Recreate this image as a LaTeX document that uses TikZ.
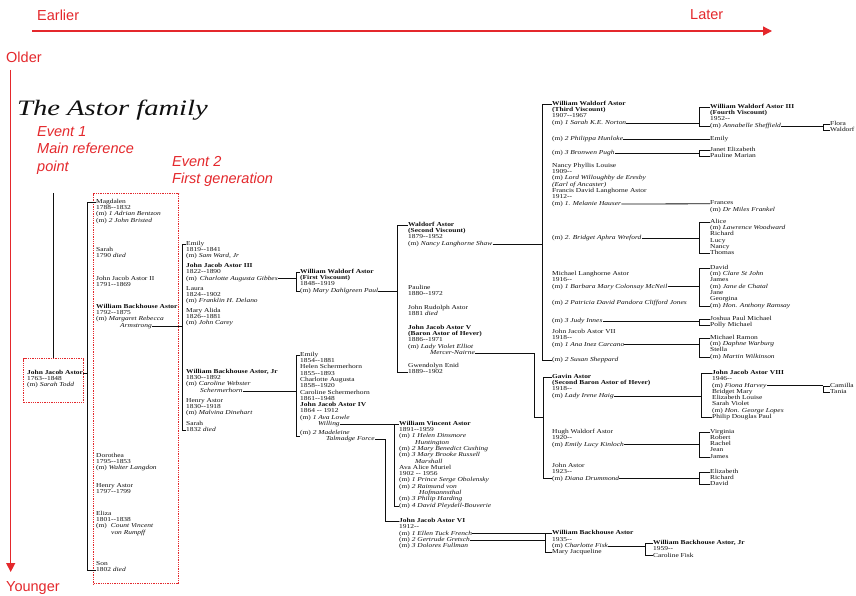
\documentclass[tikz,border=0pt]{standalone}
\usepackage{fontspec}
\setmainfont{Liberation Serif}
\newfontfamily\treefont{Liberation Serif}[FakeStretch=1.22]
\newfontfamily\titlefont{Liberation Serif}[FakeStretch=1.3]
\newfontfamily\notefont{Liberation Sans}
\usetikzlibrary{arrows.meta}
\definecolor{evred}{RGB}{228, 40, 44}
\definecolor{ink}{RGB}{15, 15, 15}
\tikzset{
    person/.style={anchor=north west, yshift=3.15pt, inner sep=0pt, align=left, text=ink,
        font=\treefont\fontsize{6.1}{6.3}\selectfont, execute at begin node=\strut, execute at end node=\strut},
    link/.style={draw=ink, line width=0.8pt},
    note/.style={anchor=west, inner sep=0pt, align=left, text=evred, font=\notefont\fontsize{14.5}{17.5}\selectfont},
    evbox/.style={draw=evred, densely dotted, line width=1.3pt, anchor=north west, inner sep=0pt},
    axis/.style={draw=evred, line width=1.3pt, -{Triangle[length=9pt, width=9pt]}}
}

\begin{document}
\begin{tikzpicture}[x=1pt, y=-1pt]
    \fill[white] (0,0) rectangle (856,596);
    \useasboundingbox (0,0) rectangle (856,596);

    % time axes
    \coordinate (axStart) at (32,31);
    \coordinate (axEnd) at (772,31);
    \coordinate (ayStart) at (10.7,70);
    \coordinate (ayEnd) at (10.7,572);
    \draw[axis] (axStart) -- (axEnd);
    \draw[axis] (ayStart) -- (ayEnd);
    \node[note] (earlier) at (37,15) {Earlier};
    \node[note] (later) at (690,15) {Later};
    \node[note] (older) at (6,57) {Older};
    \node[note] (younger) at (6,588) {Younger};

    \node[anchor=west, inner sep=0pt, text=ink, font=\titlefont\itshape\fontsize{22}{24}\selectfont] (title) at (17,110) {The Astor family};
    \node[note, font=\notefont\itshape\fontsize{14.5}{17.5}\selectfont, anchor=north west] (ev1) at (37,126) {Event 1\\Main reference\\point};
    \node[note, font=\notefont\itshape\fontsize{14.5}{17.5}\selectfont, anchor=north west] (ev2) at (172,156) {Event 2\\First generation};

    % event boxes
    \node[evbox, minimum width=60pt, minimum height=44pt] (ev1box) at (23,358) {};
    \node[evbox, minimum width=85pt, minimum height=390pt] (ev2box) at (93,193) {};

    % generation 0
    \node[person] (jja) at (27,373) {\textbf{John Jacob Astor}};
    \node[person] (jjaD) at (27,379.3) {1763--1848\\(m) \textit{Sarah Todd}};
    \coordinate (jjaUp) at (53,193);
    \draw[link] (jjaUp) -- (jjaUp |- ev1box.north);

    % generation 1
    \node[person] (magd) at (96,202) {Magdalen\\1788--1832\\(m) \textit{1 Adrian Bentzon}\\(m) \textit{2 John Bristed}};
    \node[person] (sarah) at (96,250) {Sarah\\1790 \textit{died}};
    \node[person] (jja2) at (96,279) {John Jacob Astor II\\1791--1869};
    \node[person] (wba) at (96,307) {\textbf{William Backhouse Astor}\\1792--1875\\(m) \textit{Margaret Rebecca}};
    \node[person] (wbaM) at (120,325.9) {\textit{Armstrong}};
    \node[person] (doro) at (96,456) {Dorothea\\1795--1853\\(m) \textit{Walter Langdon}};
    \node[person] (henry) at (96,486) {Henry Astor\\1797--1799};
    \node[person] (eliza) at (96,514) {Eliza\\1801--1838\\(m)\hspace{4pt}\textit{Count Vincent}\\\hspace*{15pt}\textit{von Rumpff}};
    \node[person] (son) at (96,564) {Son\\1802 \textit{died}};
    \draw[link] ([yshift=-3.15pt]magd.north west) -- ++(-9,0) coordinate (br1) |- ([yshift=3.15pt]son.south west);
    \draw[link] (jja.east) -- (jja.east -| br1);

    % generation 2
    \node[person] (emily) at (186,244) {Emily\\1819--1841\\(m) \textit{Sam Ward, Jr}};
    \node[person] (jja3) at (186,266) {\textbf{John Jacob Astor III}\\1822--1890};
    \node[person] (jja3M) at (186,278.6) {(m)\hspace{3pt}\textit{Charlotte Augusta Gibbes}};
    \node[person] (laura) at (186,289) {Laura\\1824--1902\\(m) \textit{Franklin H. Delano}};
    \node[person] (alida) at (186,311) {Mary Alida\\1826--1881\\(m) \textit{John Carey}};
    \node[person] (wbajr) at (186,372) {\textbf{William Backhouse Astor, Jr}\\1830--1892\\(m) \textit{Caroline Webster}};
    \node[person] (wbajrM) at (200,390.9) {\textit{Schermerhorn}};
    \node[person] (henry2) at (186,401) {Henry Astor\\1830--1918\\(m) \textit{Malvina Dinehart}};
    \node[person] (sarah2) at (186,424) {Sarah\\1832 \textit{died}};
    \draw[link] ([yshift=-3.15pt]emily.north west) -- ++(-4,0) coordinate (br2) |- ([yshift=3.15pt]sarah2.south west);
    \draw[link] (wbaM.east) -- (wbaM.east -| br2);

    % generation 3
    \node[person] (wwa1) at (300,272) {\textbf{William Waldorf Astor}\\\textbf{(First Viscount)}\\1848--1919};
    \node[person] (wwa1M) at (300,290.9) {(m) \textit{Mary Dahlgreen Paul}};
    \draw[link] ([yshift=-3.15pt]wwa1.north west) -- ++(-4,0) coordinate (br3a) |- (wwa1M.west);
    \draw[link] (jja3M.east) -- (jja3M.east -| br3a);

    \node[person] (emily2) at (300,355) {Emily\\1854--1881\\Helen Schermerhorn\\1855--1893\\Charlotte Augusta\\1858--1920\\Caroline Schermerhorn\\1861--1948};
    \node[person] (jja4) at (300,405.4) {\textbf{John Jacob Astor IV}\\1864 -- 1912\\(m) \textit{1 Ava Lowle}};
    \node[person] (jja4M1) at (318,424.3) {\textit{Willing}};
    \node[person] (jja4M2) at (300,433) {(m) \textit{2 Madeleine}};
    \node[person] (jja4M3) at (326,439.5) {\textit{Talmadge Force}};
    \draw[link] ([yshift=-3.15pt]emily2.north west) -- ++(-4,0) coordinate (br3b) |- (jja4M2.south west);
    \draw[link] (wbajrM.east) -- (wbajrM.east -| br3b);

    % generation 4
    \node[person] (wald) at (408,225) {\textbf{Waldorf Astor}\\\textbf{(Second Viscount)}\\1879--1952};
    \node[person] (waldM) at (408,243.9) {(m) \textit{Nancy Langhorne Shaw}};
    \node[person] (pauline) at (408,288) {Pauline\\1880--1972};
    \node[person] (rudolph) at (408,308) {John Rudolph Astor\\1881 \textit{died}};
    \node[person] (jja5) at (408,328) {\textbf{John Jacob Astor V}\\\textbf{(Baron Astor of Hever)}\\1886--1971\\(m) \textit{Lady Violet Elliot}};
    \node[person] (jja5M) at (430,353.2) {\textit{Mercer-Nairne}};
    \node[person] (gwen) at (408,366) {Gwendolyn Enid\\1889--1902};
    \draw[link] ([yshift=-3.15pt]wald.north west) -- ++(-11,0) coordinate (br4a) |- ([yshift=3.15pt]gwen.south west);
    \draw[link] (wwa1M.east) -- (wwa1M.east -| br4a);

    \node[person] (wva) at (399,424) {\textbf{William Vincent Astor}\\1891--1959\\(m) \textit{1 Helen Dinsmore}\\\hspace*{16pt}\textit{Huntington}\\(m) \textit{2 Mary Benedict Cushing}\\(m) \textit{3 Mary Brooke Russell}\\\hspace*{16pt}\textit{Marshall}\\Ava Alice Muriel\\1902 -- 1956\\(m) \textit{1 Prince Serge Obolensky}\\(m) \textit{2 Raimund von}\\\hspace*{20pt}\textit{Hofmannsthal}\\(m) \textit{3 Philip Harding}\\(m) \textit{4 David Pleydell-Bouverie}};
    \draw[link] ([yshift=-3.15pt]wva.north west) -- ++(-5,0) coordinate (br4b) |- ([yshift=3.15pt]wva.south west);
    \draw[link] (jja4M1.east) -- (jja4M1.east -| br4b);

    \node[person] (jja6) at (399,521) {\textbf{John Jacob Astor VI}\\1912--};
    \node[person] (jja6M1) at (399,533.6) {(m) \textit{1 Ellen Tuck French}};
    \node[person] (jja6M2) at (399,539.9) {(m) \textit{2 Gertrude Gretsch}};
    \node[person] (jja6M3) at (399,546.2) {(m) \textit{3 Dolores Fullman}};
    \draw[link] (jja4M3.east) -| ([xshift=-14pt,yshift=-3.15pt]jja6.north west) -- ([yshift=-3.15pt]jja6.north west);

    % generation 5
    \node[person] (wwa3) at (552,104) {\textbf{William Waldorf Astor}\\\textbf{(Third Viscount)}\\1907--1967};
    \node[person] (wwa3M1) at (552,122.9) {(m) \textit{1 Sarah K.E. Norton}};
    \node[person] (wwa3M2) at (552,139) {(m) \textit{2 Philippa Hunloke}};
    \node[person] (wwa3M3) at (552,153) {(m) \textit{3 Bronwen Pugh}};
    \node[person] (nancy) at (552,166) {Nancy Phyllis Louise\\1909--\\(m) \textit{Lord Willoughby de Eresby}\\\textit{(Earl of Ancaster)}};
    \node[person] (francis) at (552,191.2) {Francis David Langhorne Astor\\1912--};
    \node[person] (francisM1) at (552,203.8) {(m) \textit{1. Melanie Hauser}};
    \node[person] (francisM2) at (552,238) {(m) \textit{2. Bridget Aphra Wreford}};
    \node[person] (michael) at (552,274) {Michael Langhorne Astor\\1916--};
    \node[person] (michaelM1) at (552,286.6) {(m) \textit{1 Barbara Mary Colonsay McNeil}};
    \node[person] (michaelM2) at (552,303) {(m) \textit{2 Patricia David Pandora Clifford Jones}};
    \node[person] (michaelM3) at (552,321) {(m) \textit{3 Judy Innes}};
    \node[person] (jja7) at (552,332) {John Jacob Astor VII\\1918--};
    \node[person] (jja7M1) at (552,344.6) {(m) \textit{1 Ana Inez Carcano}};
    \node[person] (jja7M2) at (552,360) {(m) \textit{2 Susan Sheppard}};
    \draw[link] ([yshift=-3.15pt]wwa3.north west) -- ++(-10,0) coordinate (br5a) |- (jja7M2.west);
    \draw[link] (waldM.east) -- (waldM.east -| br5a);

    \node[person] (gavin) at (552,377) {\textbf{Gavin Astor}\\\textbf{(Second Baron Astor of Hever)}\\1918--};
    \node[person] (gavinM) at (552,395.9) {(m) \textit{Lady Irene Haig}};
    \node[person] (hugh) at (552,432) {Hugh Waldorf Astor\\1920--};
    \node[person] (hughM) at (552,444.6) {(m) \textit{Emily Lucy Kinloch}};
    \node[person] (johnA) at (552,466) {John Astor\\1923--};
    \node[person] (johnAM) at (552,478.6) {(m) \textit{Diana Drummond}};
    \draw[link] ([yshift=-3.15pt]gavin.north west) -- ++(-9,0) |- (johnAM.west);
    \coordinate (gavJoin) at (543,417);
    \draw[link] (jja5M.east) -| ([xshift=-9pt]gavJoin) -- (gavJoin);

    \node[person] (wba3) at (552,533.6) {\textbf{William Backhouse Astor}\\1935--};
    \node[person] (wba3M) at (552,546.2) {(m) \textit{Charlotte Fisk}};
    \node[person] (mjac) at (552,552.5) {Mary Jacqueline};
    \draw[link] ([yshift=-3.15pt]wba3.north west) -- ++(-7,0) coordinate (br5d) |- (mjac.west);
    \draw[link] (jja6M1.east) -- (jja6M1.east -| br5d);
    \draw[link] (jja6M2.east) -- (jja6M2.east -| br5d);

    % generation 6
    \node[person] (wwa4) at (710,107) {\textbf{William Waldorf Astor III}\\\textbf{(Fourth Viscount)}\\1952--};
    \node[person] (wwa4M) at (710,125.9) {(m) \textit{Annabelle Sheffield}};
    \draw[link] ([yshift=-3.15pt]wwa4.north west) -- ++(-11,0) coordinate (br6a) |- (wwa4M.west);
    \draw[link] (wwa3M1.east) -- (wwa3M1.east -| br6a);
    \node[person] (emily3) at (710,139) {Emily};
    \draw[link] (wwa3M2.east) -- (emily3.west);
    \node[person] (janet) at (710,150) {Janet Elizabeth\\Pauline Marian};
    \draw[link] ([yshift=-3.15pt]janet.north west) -- ++(-11,0) coordinate (br6b) |- ([yshift=3.15pt]janet.south west);
    \draw[link] (wwa3M3.east) -- (wwa3M3.east -| br6b);
    \node[person] (frances) at (710,203.8) {Frances\\(m) \textit{Dr Miles Frankel}};
    \draw[link] (francisM1.east) -- ([yshift=-3.15pt]frances.north west);
    \node[person] (alice) at (710,222) {Alice\\(m) \textit{Lawrence Woodward}\\Richard\\Lucy\\Nancy\\Thomas};
    \draw[link] ([yshift=-3.15pt]alice.north west) -- ++(-11,0) coordinate (br6c) |- ([yshift=3.15pt]alice.south west);
    \draw[link] (francisM2.east) -- (francisM2.east -| br6c);
    \node[person] (david) at (710,268) {David\\(m) \textit{Clare St John}\\James\\(m) \textit{Jane de Chatal}\\Jane\\Georgina\\(m) \textit{Hon. Anthony Ramsay}};
    \draw[link] ([yshift=-3.15pt]david.north west) -- ++(-11,0) coordinate (br6d) |- ([yshift=3.15pt]david.south west);
    \draw[link] (michaelM1.east) -- (michaelM1.east -| br6d);
    \node[person] (joshua) at (710,319) {Joshua Paul Michael\\Polly Michael};
    \draw[link] ([yshift=-3.15pt]joshua.north west) -- ++(-11,0) coordinate (br6e) |- ([yshift=3.15pt]joshua.south west);
    \draw[link] (michaelM3.east) -- (michaelM3.east -| br6e);
    \node[person] (ramon) at (710,338) {Michael Ramon\\(m) \textit{Daphne Warburg}\\Stella\\(m) \textit{Martin Wilkinson}};
    \draw[link] ([yshift=-3.15pt]ramon.north west) -- ++(-11,0) coordinate (br6f) |- ([yshift=3.15pt]ramon.south west);
    \draw[link] (jja7M1.east) -- (jja7M1.east -| br6f);
    \node[person] (jja8) at (712,373) {\textbf{John Jacob Astor VIII}\\1946--};
    \node[person] (jja8M) at (712,385.6) {(m) \textit{Fiona Harvey}};
    \node[person] (jja8C) at (712,391.9) {Bridget Mary\\Elizabeth Louise\\Sarah Violet\\(m) \textit{Hon. George Lopes}\\Philip Douglas Paul};
    \draw[link] ([yshift=-3.15pt]jja8.north west) -- ++(-11,0) coordinate (br6g) |- ([yshift=3.15pt]jja8C.south west);
    \draw[link] (gavinM.east) -- (gavinM.east -| br6g);
    \node[person] (virginia) at (710,432) {Virginia\\Robert\\Rachel\\Jean\\James};
    \draw[link] ([yshift=-3.15pt]virginia.north west) -- ++(-11,0) coordinate (br6h) |- ([yshift=3.15pt]virginia.south west);
    \draw[link] (hughM.east) -- (hughM.east -| br6h);
    \node[person] (eliz) at (710,472) {Elizabeth\\Richard\\David};
    \draw[link] ([yshift=-3.15pt]eliz.north west) -- ++(-11,0) coordinate (br6i) |- ([yshift=3.15pt]eliz.south west);
    \draw[link] (johnAM.east) -- (johnAM.east -| br6i);

    \node[person] (wba4) at (653,543) {\textbf{William Backhouse Astor, Jr}\\1959--};
    \node[person] (carfisk) at (653,555.6) {Caroline Fisk};
    \draw[link] ([yshift=-3.15pt]wba4.north west) -- ++(-8,0) coordinate (br6j) |- (carfisk.west);
    \draw[link] (wba3M.east) -- (wba3M.east -| br6j);

    % generation 7
    \node[person] (flora) at (830,124) {Flora};
    \node[person] (waldorf) at (830,130.3) {Waldorf};
    \draw[link] (flora.west) -- ++(-7,0) coordinate (br7a) |- (waldorf.west);
    \draw[link] (wwa4M.east) -- (wwa4M.east -| br7a);
    \node[person] (camilla) at (830,386) {Camilla\\Tania};
    \draw[link] ([yshift=-3.15pt]camilla.north west) -- ++(-7,0) coordinate (br7b) |- ([yshift=3.15pt]camilla.south west);
    \draw[link] (jja8M.east) -- (jja8M.east -| br7b);
\end{tikzpicture}
\end{document}
